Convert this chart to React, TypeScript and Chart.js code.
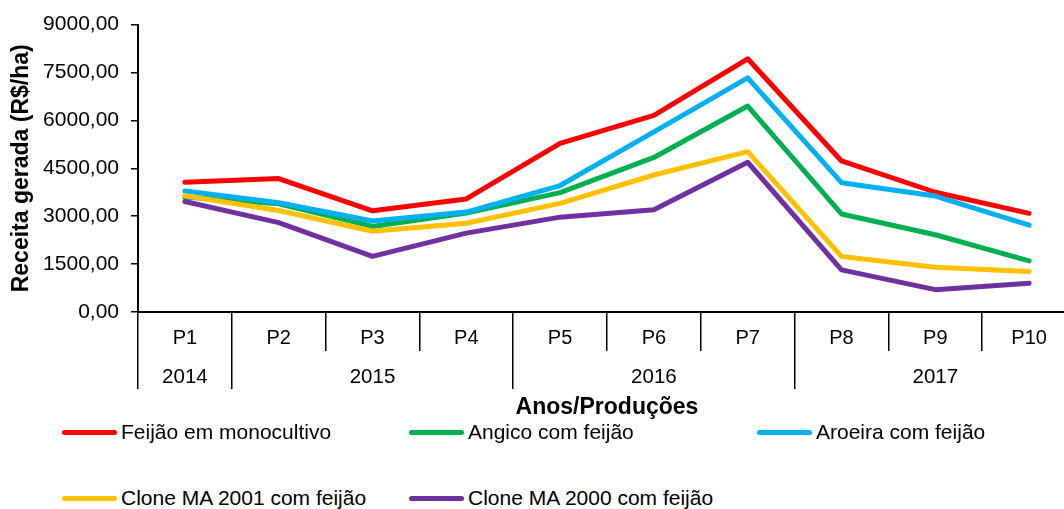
import React, { useEffect, useRef } from 'react';
import { Chart, registerables } from 'chart.js';

Chart.register(...registerables);

const categories = ['P1', 'P2', 'P3', 'P4', 'P5', 'P6', 'P7', 'P8', 'P9', 'P10'];
const yearLabels = ['2014', '', '2015', '', '', '2016', '', '', '2017', ''];
const yearBoundaries = [0, 1, 4, 7];

const seriesNames = [
  'Feijão em monocultivo',
  'Angico com feijão',
  'Aroeira com feijão',
  'Clone MA 2001 com feijão',
  'Clone MA 2000 com feijão',
];
const seriesColors = ['#FF0000', '#00B050', '#00B0F0', '#FFC000', '#7030A0'];

const feijaoMonocultivo = [4060, 4180, 3170, 3540, 5280, 6160, 7930, 4730, 3750, 3090];
const angicoFeijao = [3600, 3390, 2680, 3100, 3740, 4840, 6450, 3070, 2420, 1600];
const aroeiraFeijao = [3790, 3420, 2850, 3130, 3960, 5640, 7330, 4050, 3630, 2720];
const clone2001Feijao = [3640, 3180, 2530, 2780, 3400, 4290, 5020, 1740, 1400, 1270];
const clone2000Feijao = [3460, 2800, 1740, 2470, 2970, 3200, 4690, 1320, 700, 900];

const seriesValues = [feijaoMonocultivo, angicoFeijao, aroeiraFeijao, clone2001Feijao, clone2000Feijao];

const FONT = "'Liberation Sans', Arial, sans-serif";

const legendCols = [62, 409, 757];
const legendRows = [432, 498];

export default function App() {
  const canvasRef = useRef<HTMLCanvasElement | null>(null);

  useEffect(() => {
    const canvas = canvasRef.current;
    if (!canvas) return;
    const chart = new Chart(canvas, {
      type: 'line',
      data: {
        labels: categories,
        datasets: seriesValues.map((vals, i) => ({
          label: seriesNames[i],
          data: vals,
          borderColor: seriesColors[i],
          backgroundColor: seriesColors[i],
          borderWidth: 5,
          pointRadius: 0,
          tension: 0,
          borderCapStyle: 'round' as const,
          borderJoinStyle: 'round' as const,
          fill: false,
          order: seriesValues.length - 1 - i,
          xAxisID: 'x',
          yAxisID: 'y',
        })),
      },
      options: {
        animation: false,
        responsive: false,
        layout: { padding: { left: 0, right: 4, top: 24, bottom: 0 } },
        plugins: {
          legend: { display: false },
          tooltip: { enabled: false },
        },
        scales: {
          y: {
            min: 0,
            max: 9000,
            ticks: {
              stepSize: 1500,
              color: '#000',
              padding: 12,
              font: { family: FONT, size: 21 },
              callback: (v: any) => Number(v).toFixed(2).replace('.', ','),
            },
            grid: {
              drawOnChartArea: false,
              drawTicks: true,
              tickLength: 7,
              color: '#000',
              lineWidth: 1.5,
            },
            border: { display: true, color: '#000', width: 2 },
            title: {
              display: true,
              text: 'Receita gerada (R$/ha)',
              color: '#000',
              font: { family: FONT, size: 23, weight: 'bold' },
              padding: { top: 7.5, bottom: 0 },
            },
            afterFit: (s: any) => {
              s.width = 138;
            },
          },
          x: {
            type: 'category',
            position: 'bottom',
            offset: true,
            ticks: {
              color: '#000',
              padding: -25,
              autoSkip: false,
              maxRotation: 0,
              font: { family: FONT, size: 20 },
            },
            grid: {
              offset: true,
              drawOnChartArea: false,
              drawTicks: true,
              tickLength: 39,
              color: '#000',
              lineWidth: 1.5,
            },
            border: { display: true, color: '#000', width: 2 },
            afterFit: (s: any) => {
              s.height = 39;
            },
          },
          x2: {
            type: 'category',
            position: 'bottom',
            labels: yearLabels,
            offset: true,
            ticks: {
              color: '#000',
              padding: -24,
              autoSkip: false,
              maxRotation: 0,
              font: { family: FONT, size: 20.5 },
            },
            grid: {
              offset: true,
              drawOnChartArea: false,
              drawTicks: true,
              tickLength: 38,
              lineWidth: 1.5,
              color: (ctx: any) =>
                ctx.index === undefined || yearBoundaries.includes(ctx.index) ? '#000' : 'rgba(0,0,0,0)',
            },
            border: { display: false },
            title: {
              display: true,
              text: 'Anos/Produções',
              color: '#000',
              font: { family: FONT, size: 23, weight: 'bold' },
              padding: { top: 0, bottom: 10 },
            },
            afterFit: (s: any) => {
              s.height = 80;
            },
          },
        },
      },
    });
    return () => chart.destroy();
  }, []);

  return (
    <div
      style={{
        position: 'fixed',
        left: 0,
        top: 0,
        width: 1064,
        height: 509,
        overflow: 'hidden',
        background: '#fff',
      }}
    >
      <canvas
        ref={canvasRef}
        width={1080}
        height={431}
        style={{ position: 'absolute', left: 0, top: 0, width: 1080, height: 431 }}
      />
      {seriesNames.map((name, i) => {
        const col = legendCols[i % 3];
        const row = legendRows[Math.floor(i / 3)];
        return (
          <React.Fragment key={name}>
            <div
              style={{
                position: 'absolute',
                left: col,
                top: row - 2.5,
                width: 55,
                height: 5,
                borderRadius: 2.5,
                background: seriesColors[i],
              }}
            />
            <div
              style={{
                position: 'absolute',
                left: col + 59,
                top: row - 12,
                fontFamily: FONT,
                fontSize: 21,
                lineHeight: '24px',
                color: '#000',
                whiteSpace: 'nowrap',
              }}
            >
              {name}
            </div>
          </React.Fragment>
        );
      })}
    </div>
  );
}
